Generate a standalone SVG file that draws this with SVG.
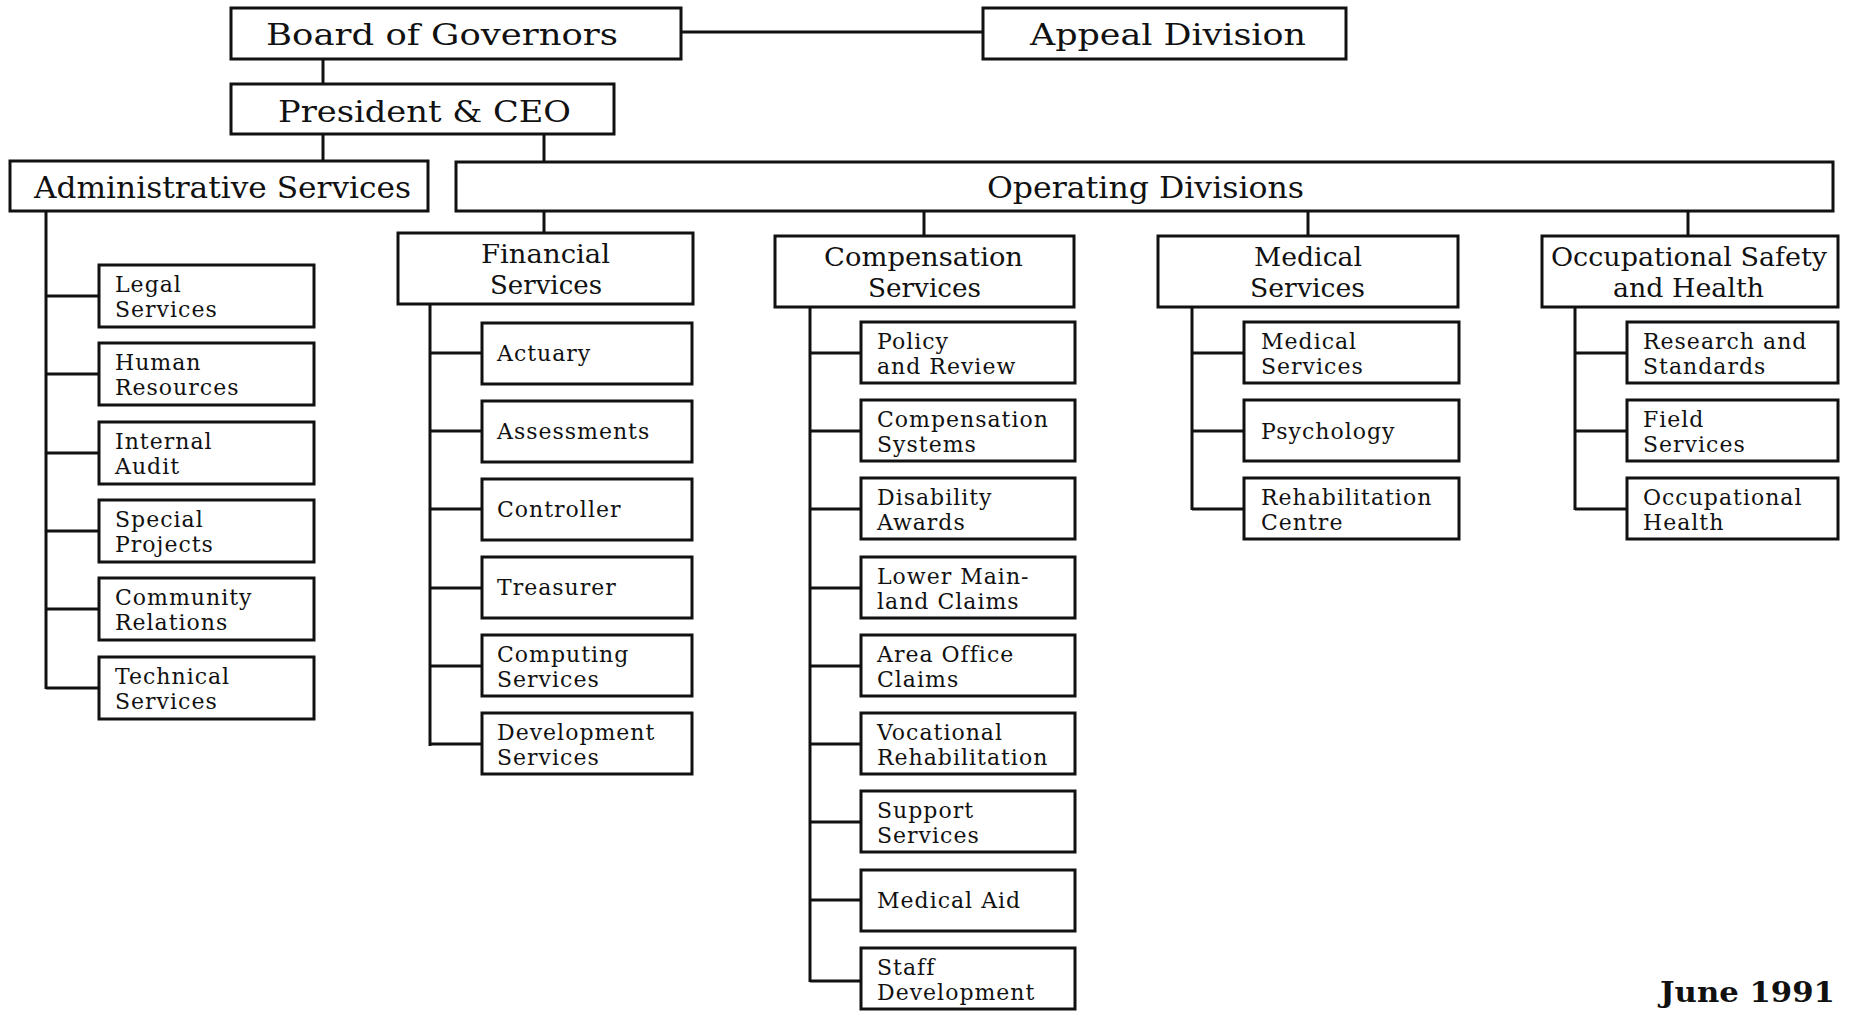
<svg xmlns="http://www.w3.org/2000/svg" width="1851" height="1011" viewBox="0 0 1851 1011">
<style>
rect{fill:#fff;stroke:#111;stroke-width:3}
.c line{stroke:#111;stroke-width:3}
text{font-family:"DejaVu Serif","Liberation Serif",serif;fill:#111}
.h{font-size:30px}
.d{font-size:26px}
.s{font-size:22px;letter-spacing:1px}
.j{font-size:27px;font-weight:bold}
</style>
<rect x="0" y="0" width="1851" height="1011" style="stroke:none"/>
<g class="c" id="connectors">
<line x1="681" y1="32" x2="983" y2="32"/>
<line x1="323" y1="59" x2="323" y2="84"/>
<line x1="323" y1="134" x2="323" y2="161"/>
<line x1="544" y1="134" x2="544" y2="162"/>
<line x1="544" y1="211" x2="544" y2="233"/>
<line x1="924" y1="211" x2="924" y2="236"/>
<line x1="1308" y1="211" x2="1308" y2="236"/>
<line x1="1688" y1="211" x2="1688" y2="236"/>
<line x1="46" y1="211" x2="46" y2="689"/>
<line x1="46" y1="296" x2="99" y2="296"/>
<line x1="46" y1="374" x2="99" y2="374"/>
<line x1="46" y1="453" x2="99" y2="453"/>
<line x1="46" y1="531" x2="99" y2="531"/>
<line x1="46" y1="609" x2="99" y2="609"/>
<line x1="46" y1="688" x2="99" y2="688"/>
<line x1="430" y1="304" x2="430" y2="746"/>
<line x1="430" y1="353" x2="482" y2="353"/>
<line x1="430" y1="431" x2="482" y2="431"/>
<line x1="430" y1="509" x2="482" y2="509"/>
<line x1="430" y1="588" x2="482" y2="588"/>
<line x1="430" y1="666" x2="482" y2="666"/>
<line x1="430" y1="744" x2="482" y2="744"/>
<line x1="810" y1="307" x2="810" y2="982"/>
<line x1="810" y1="353" x2="861" y2="353"/>
<line x1="810" y1="431" x2="861" y2="431"/>
<line x1="810" y1="509" x2="861" y2="509"/>
<line x1="810" y1="588" x2="861" y2="588"/>
<line x1="810" y1="666" x2="861" y2="666"/>
<line x1="810" y1="744" x2="861" y2="744"/>
<line x1="810" y1="822" x2="861" y2="822"/>
<line x1="810" y1="900" x2="861" y2="900"/>
<line x1="810" y1="981" x2="861" y2="981"/>
<line x1="1192" y1="307" x2="1192" y2="510"/>
<line x1="1192" y1="353" x2="1244" y2="353"/>
<line x1="1192" y1="431" x2="1244" y2="431"/>
<line x1="1192" y1="509" x2="1244" y2="509"/>
<line x1="1575" y1="307" x2="1575" y2="510"/>
<line x1="1575" y1="353" x2="1627" y2="353"/>
<line x1="1575" y1="431" x2="1627" y2="431"/>
<line x1="1575" y1="509" x2="1627" y2="509"/>
</g>
<g id="board"><rect x="231" y="8" width="450" height="51"/><text class="h" x="266" y="45" textLength="352" lengthAdjust="spacingAndGlyphs">Board of Governors</text></g>
<g id="appeal"><rect x="983" y="8" width="363" height="51"/><text class="h" x="1030" y="45" textLength="276" lengthAdjust="spacingAndGlyphs">Appeal Division</text></g>
<g id="president"><rect x="231" y="84" width="383" height="50"/><text class="h" x="278" y="122" textLength="293" lengthAdjust="spacingAndGlyphs">President &amp; CEO</text></g>
<g id="admin"><rect x="10" y="161" width="418" height="50"/><text class="h" x="34" y="198" textLength="377" lengthAdjust="spacingAndGlyphs">Administrative Services</text></g>
<g id="operating"><rect x="456" y="162" width="1377" height="49"/><text class="h" x="987" y="198" textLength="317" lengthAdjust="spacingAndGlyphs">Operating Divisions</text></g>

<g id="financial"><rect x="398" y="233" width="295" height="71"/><text class="d" x="481" y="263" textLength="129" lengthAdjust="spacingAndGlyphs">Financial</text><text class="d" x="490" y="294" textLength="112" lengthAdjust="spacingAndGlyphs">Services</text></g>
<g id="compensation"><rect x="775" y="236" width="299" height="71"/><text class="d" x="824" y="266" textLength="199" lengthAdjust="spacingAndGlyphs">Compensation</text><text class="d" x="868" y="297" textLength="113" lengthAdjust="spacingAndGlyphs">Services</text></g>
<g id="medical"><rect x="1158" y="236" width="300" height="71"/><text class="d" x="1254" y="266" textLength="108" lengthAdjust="spacingAndGlyphs">Medical</text><text class="d" x="1250" y="297" textLength="115" lengthAdjust="spacingAndGlyphs">Services</text></g>
<g id="osh"><rect x="1542" y="236" width="296" height="71"/><text class="d" x="1551" y="266" textLength="276" lengthAdjust="spacingAndGlyphs">Occupational Safety</text><text class="d" x="1613" y="297" textLength="151" lengthAdjust="spacingAndGlyphs">and Health</text></g>

<g id="legal"><rect x="99" y="265" width="215" height="62"/><text class="s" x="115" y="292">Legal</text><text class="s" x="115" y="317">Services</text></g>
<g id="human"><rect x="99" y="343" width="215" height="62"/><text class="s" x="115" y="370">Human</text><text class="s" x="115" y="395">Resources</text></g>
<g id="internal"><rect x="99" y="422" width="215" height="62"/><text class="s" x="115" y="449">Internal</text><text class="s" x="115" y="474">Audit</text></g>
<g id="special"><rect x="99" y="500" width="215" height="62"/><text class="s" x="115" y="527">Special</text><text class="s" x="115" y="552">Projects</text></g>
<g id="community"><rect x="99" y="578" width="215" height="62"/><text class="s" x="115" y="605">Community</text><text class="s" x="115" y="630">Relations</text></g>
<g id="technical"><rect x="99" y="657" width="215" height="62"/><text class="s" x="115" y="684">Technical</text><text class="s" x="115" y="709">Services</text></g>

<g id="actuary"><rect x="482" y="323" width="210" height="61"/><text class="s" x="497" y="361">Actuary</text></g>
<g id="assessments"><rect x="482" y="401" width="210" height="61"/><text class="s" x="497" y="439">Assessments</text></g>
<g id="controller"><rect x="482" y="479" width="210" height="61"/><text class="s" x="497" y="517">Controller</text></g>
<g id="treasurer"><rect x="482" y="557" width="210" height="61"/><text class="s" x="497" y="595">Treasurer</text></g>
<g id="computing"><rect x="482" y="635" width="210" height="61"/><text class="s" x="497" y="662">Computing</text><text class="s" x="497" y="687">Services</text></g>
<g id="development"><rect x="482" y="713" width="210" height="61"/><text class="s" x="497" y="740">Development</text><text class="s" x="497" y="765">Services</text></g>

<g id="policy"><rect x="861" y="322" width="214" height="61"/><text class="s" x="877" y="349">Policy</text><text class="s" x="877" y="374">and Review</text></g>
<g id="compsystems"><rect x="861" y="400" width="214" height="61"/><text class="s" x="877" y="427">Compensation</text><text class="s" x="877" y="452">Systems</text></g>
<g id="disability"><rect x="861" y="478" width="214" height="61"/><text class="s" x="877" y="505">Disability</text><text class="s" x="877" y="530">Awards</text></g>
<g id="lowermainland"><rect x="861" y="557" width="214" height="61"/><text class="s" x="877" y="584">Lower Main-</text><text class="s" x="877" y="609">land Claims</text></g>
<g id="areaoffice"><rect x="861" y="635" width="214" height="61"/><text class="s" x="877" y="662">Area Office</text><text class="s" x="877" y="687">Claims</text></g>
<g id="vocational"><rect x="861" y="713" width="214" height="61"/><text class="s" x="877" y="740">Vocational</text><text class="s" x="877" y="765">Rehabilitation</text></g>
<g id="support"><rect x="861" y="791" width="214" height="61"/><text class="s" x="877" y="818">Support</text><text class="s" x="877" y="843">Services</text></g>
<g id="medicalaid"><rect x="861" y="870" width="214" height="61"/><text class="s" x="877" y="908">Medical Aid</text></g>
<g id="staffdev"><rect x="861" y="948" width="214" height="61"/><text class="s" x="877" y="975">Staff</text><text class="s" x="877" y="1000">Development</text></g>

<g id="medservices"><rect x="1244" y="322" width="215" height="61"/><text class="s" x="1261" y="349">Medical</text><text class="s" x="1261" y="374">Services</text></g>
<g id="psychology"><rect x="1244" y="400" width="215" height="61"/><text class="s" x="1261" y="439">Psychology</text></g>
<g id="rehabcentre"><rect x="1244" y="478" width="215" height="61"/><text class="s" x="1261" y="505">Rehabilitation</text><text class="s" x="1261" y="530">Centre</text></g>

<g id="research"><rect x="1627" y="322" width="211" height="61"/><text class="s" x="1643" y="349">Research and</text><text class="s" x="1643" y="374">Standards</text></g>
<g id="field"><rect x="1627" y="400" width="211" height="61"/><text class="s" x="1643" y="427">Field</text><text class="s" x="1643" y="452">Services</text></g>
<g id="occhealth"><rect x="1627" y="478" width="211" height="61"/><text class="s" x="1643" y="505">Occupational</text><text class="s" x="1643" y="530">Health</text></g>

<text class="j" x="1660" y="1002" textLength="175" lengthAdjust="spacingAndGlyphs">June 1991</text>
</svg>
